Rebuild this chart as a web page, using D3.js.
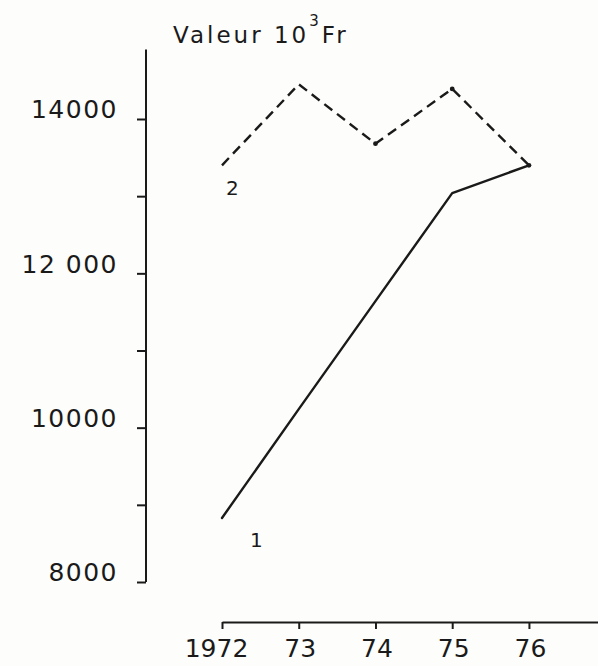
<!DOCTYPE html>
<html>
<head>
<meta charset="utf-8">
<script src="https://cdn.jsdelivr.net/npm/d3@7"></script>
<style>
  html, body { margin: 0; padding: 0; background: #fdfdfb; }
  svg { display: block; }
  text { font-family: "DejaVu Sans", sans-serif; fill: #1a1a1a; }
</style>
</head>
<body>
<svg id="chart" width="598" height="666"></svg>
<script>
// ---- data ----
const years = [1972, 1973, 1974, 1975, 1976];
const xTickLabels = ["1972", "73", "74", "75", "76"];
const series1 = [8830, 10240, 11640, 13040, 13400];   // courbe 1 (trait plein)
const series2 = [13400, 14450, 13680, 14390, 13400];  // courbe 2 (tirets)
const yTickValues = [8000, 9000, 10000, 11000, 12000, 13000, 14000];
const yTickLabels = ["8000", "", "10000", "", "12 000", "", "14000"];
const title = "Valeur 10";
const titleSup = "3";
const titleUnit = "Fr";

// ---- layout ----
const svg = d3.select("#chart");
const ink = "#1a1a1a";

const x = d3.scaleLinear().domain([1972, 1976.9]).range([222, 598]);
const y = d3.scaleLinear().domain([8000, 14000]).range([582, 119]);

// y axis
const yAxisX = 146;
const yAxis = d3.axisLeft(y)
  .tickValues(yTickValues)
  .tickSize(9)
  .tickSizeOuter(0)
  .tickFormat((d, i) => yTickLabels[i]);
const gy = svg.append("g").attr("transform", `translate(${yAxisX},0)`).call(yAxis);
gy.select(".domain").remove();
gy.append("line")
  .attr("x1", 0).attr("x2", 0)
  .attr("y1", y(14900)).attr("y2", y(8000))
  .attr("stroke", ink).attr("stroke-width", 2);
gy.selectAll(".tick line").attr("stroke", ink).attr("stroke-width", 2);
gy.selectAll(".tick text")
  .attr("x", -28).attr("dy", "-0.05em")
  .style("font-size", "25px").style("letter-spacing", "1.5px")
  .attr("fill", ink);

// x axis
const xAxisY = 622;
const xAxis = d3.axisBottom(x)
  .tickValues(years)
  .tickSize(7)
  .tickSizeOuter(0)
  .tickFormat((d, i) => xTickLabels[i]);
const gx = svg.append("g").attr("transform", `translate(0,${xAxisY})`).call(xAxis);
gx.select(".domain").attr("stroke", ink).attr("stroke-width", 2);
gx.selectAll(".tick line").attr("stroke", ink).attr("stroke-width", 2);
gx.selectAll(".tick text")
  .attr("y", 17)
  .attr("dx", (d, i) => i === 0 ? -6 : 1)
  .style("font-size", "25px")
  .attr("fill", ink);

// lines
const line = d3.line().x((d, i) => x(years[i])).y(d => y(d));
svg.append("path").datum(series1)
  .attr("d", line).attr("fill", "none")
  .attr("stroke", ink).attr("stroke-width", 2.4)
  .attr("stroke-linejoin", "round").attr("stroke-linecap", "round");
svg.append("path").datum(series2)
  .attr("d", line).attr("fill", "none")
  .attr("stroke", ink).attr("stroke-width", 2.4)
  .attr("stroke-dasharray", "10,6");

// small dots at vertices
svg.selectAll("circle.pt").data([[3, series2], [2, series2], [4, series1]])
  .join("circle").attr("class", "pt")
  .attr("cx", d => x(years[d[0]])).attr("cy", d => y(d[1][d[0]]))
  .attr("r", 2.4).attr("fill", ink);

// series labels
svg.append("text").attr("x", x(1972) + 28).attr("y", y(series1[0]) + 29)
  .style("font-size", "20px").text("1");
svg.append("text").attr("x", x(1972) + 4).attr("y", y(series2[0]) + 30)
  .style("font-size", "20px").text("2");

// title
const t = svg.append("text").attr("x", 173).attr("y", 43)
  .style("font-size", "23px").style("letter-spacing", "3px");
t.append("tspan").text(title);
t.append("tspan").attr("dy", -17).style("font-size", "15px").text(titleSup);
t.append("tspan").attr("dy", 17).text(titleUnit);
</script>
</body>
</html>
